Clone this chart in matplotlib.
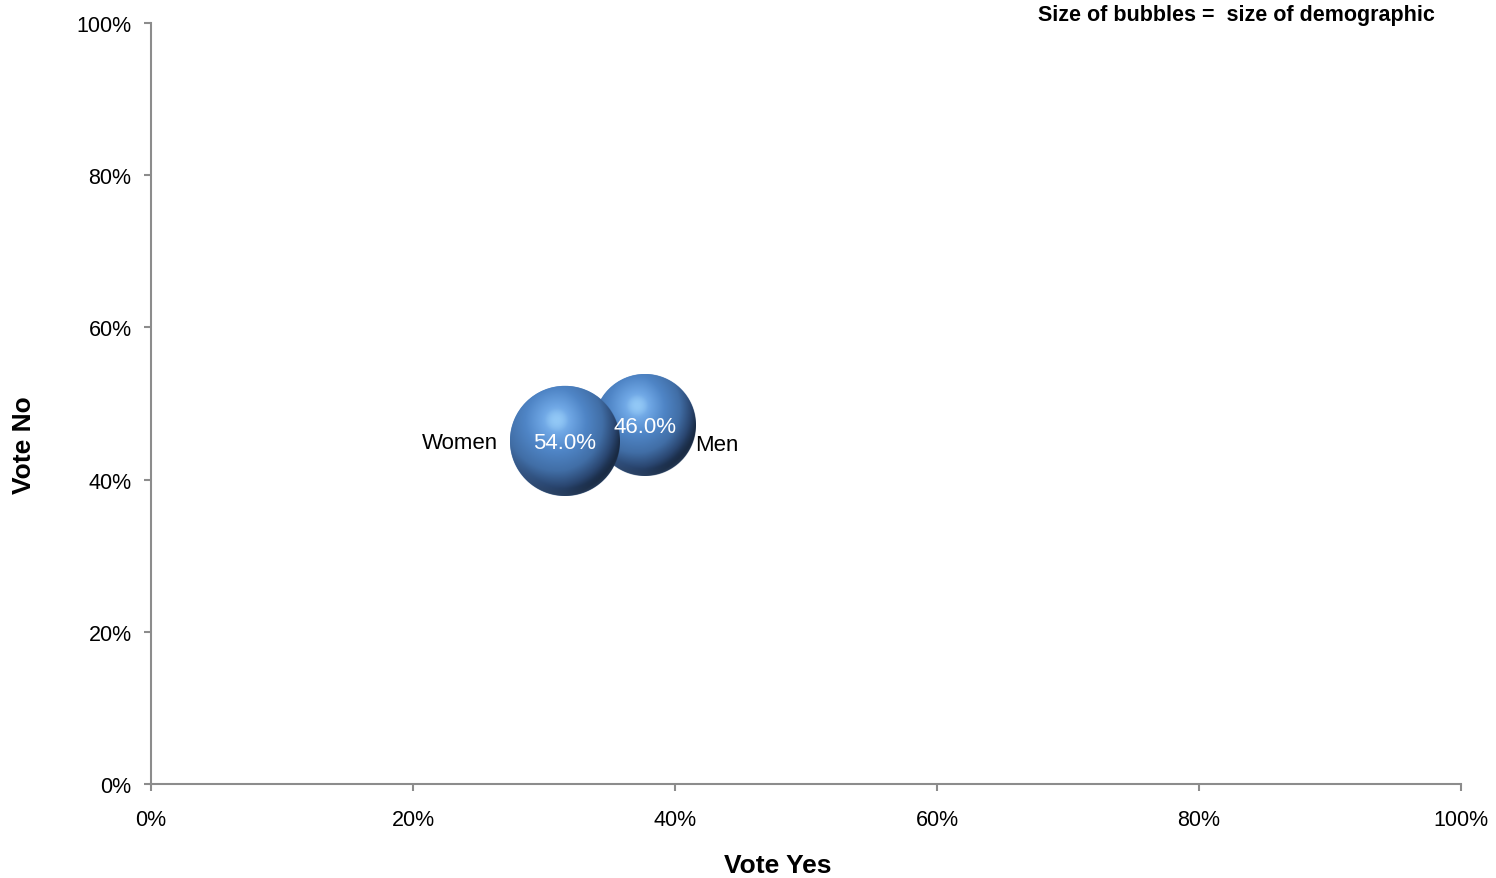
import numpy as np
import matplotlib
matplotlib.use("Agg")
import matplotlib.pyplot as plt
from matplotlib.colors import LinearSegmentedColormap

plt.rcParams['font.family'] = ['Liberation Sans', 'DejaVu Sans']

# data
groups = ["Men", "Women"]
vote_yes = [37.7, 31.6]
vote_no = [47.2, 45.1]
group_size = [46.0, 54.0]

W, H, DPI = 1496, 879, 100
fig = plt.figure(figsize=(W / DPI, H / DPI), dpi=DPI)
ax = fig.add_axes([151 / W, (879 - 785) / H, 1310 / W, 761 / H])
ax.set_xlim(0, 100)
ax.set_ylim(0, 100)

# bubble radius in pixels ~ sqrt(size)
k = 7.48
px_x = 100 / 1310
px_y = 100 / 761

shade = LinearSegmentedColormap.from_list(
    "ball", [(0.0, "#92c8f6"), (0.18, "#6ea6e4"), (0.4, "#4f85c6"),
             (0.65, "#416ea6"), (0.85, "#2a4670"), (1.0, "#15243a")])

for name, x, y, s in zip(groups, vote_yes, vote_no, group_size):
    R = k * np.sqrt(s)
    r_pt = R * 72 / DPI
    ax.scatter([x], [y], s=(2 * r_pt) ** 2, color="#4a7fbf", edgecolors="none", zorder=2)
    n = int(2 * R) * 3
    g = (np.arange(n) + 0.5) / n * 2 * R - R
    gx, gy = np.meshgrid(g, -g)
    d = np.hypot(gx, gy)
    hx, hy = -0.15 * R, 0.38 * R
    dh = np.clip(np.hypot(gx - hx, gy - hy) / (1.42 * R), 0, 1)
    val = np.where(dh < 0.15, 0.15 * (dh / 0.15) ** 2, dh)
    # darker towards the right edge
    val = np.clip(val + 0.12 * np.clip(gx / R, 0, 1) * (d / R), 0, 1)
    rgba = shade(val)
    # slight lighter rim on the bottom
    rim = np.clip((d / R - 0.86) / 0.14, 0, 1) * np.clip(-gy / R, 0, 1)
    rgba[..., :3] = rgba[..., :3] * (1 - 0.3 * rim[..., None]) + np.array([0.33, 0.47, 0.66]) * 0.3 * rim[..., None]
    rgba[..., 3] = np.clip((R - d) * 3 + 0.5, 0, 1)
    ax.imshow(rgba, extent=[x - R * px_x, x + R * px_x, y - R * px_y, y + R * px_y],
              aspect="auto", zorder=3, interpolation="antialiased")
    ax.text(x, y - 0.2, f"{s:.1f}%", color="white", fontsize=16, ha="center", va="center", zorder=5)
    if name == "Women":
        ax.text(x - R * px_x - 12 * px_x, y - 0.2, name, fontsize=16, ha="right", va="center", zorder=5)
    else:
        ax.text(x + R * px_x, y - 2.6, name, fontsize=16, ha="left", va="center", zorder=5)

ax.set_xlim(0, 100)
ax.set_ylim(0, 100)
ticks = [0, 20, 40, 60, 80, 100]
ax.set_xticks(ticks)
ax.set_yticks(ticks)
ax.set_xticklabels([f"{t}%" for t in ticks])
ax.set_yticklabels([f"{t}%" for t in ticks])
ax.tick_params(axis="both", direction="out", length=5, width=1.5, color="#8c8c8c", labelsize=15.5)
ax.tick_params(axis="x", pad=13)
ax.tick_params(axis="y", pad=9)
for sp in ["top", "right"]:
    ax.spines[sp].set_visible(False)
for sp in ["left", "bottom"]:
    ax.spines[sp].set_color("#8c8c8c")
    ax.spines[sp].set_linewidth(1.5)

fig.text(778 / W, 1 - 866 / H, "Vote Yes", fontsize=19, fontweight="bold", ha="center", va="center")
fig.text(24 / W, 1 - 445 / H, "Vote No", fontsize=19, fontweight="bold", ha="center", va="center",
         rotation=90)

fig.text(1435 / W, 1 - 15 / H, "Size of bubbles =  size of demographic", fontsize=15.5,
         fontweight="bold", ha="right", va="center")

fig.savefig("out.png", dpi=DPI)
